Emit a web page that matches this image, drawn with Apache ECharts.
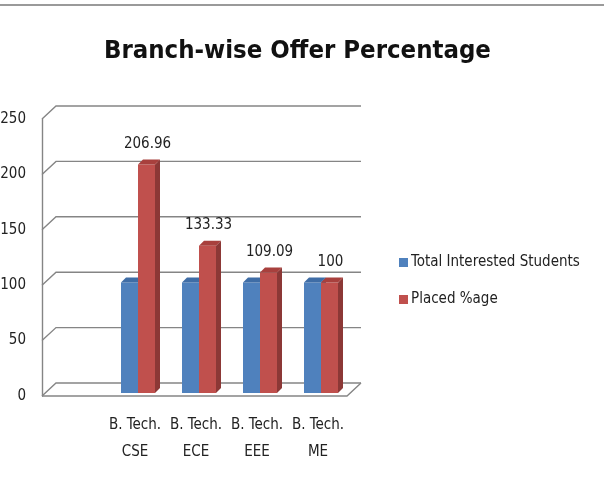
<!DOCTYPE html>
<html>
<head>
<meta charset="utf-8">
<script src="https://cdn.jsdelivr.net/npm/echarts@6/dist/echarts.min.js"></script>
<style>
  body { margin: 0; background: #fff; }
  #chart { width: 604px; height: 481px; }
</style>
</head>
<body>
<div id="chart"></div>
<script>
var categories = ['B. Tech.\nCSE', 'B. Tech.\nECE', 'B. Tech.\nEEE', 'B. Tech.\nME'];
var totalInterested = [100, 100, 100, 100];
var placedPct = [206.96, 133.33, 109.09, 100];
var yTicks = [0, 50, 100, 150, 200, 250];

var FONT = "'Liberation Sans Narrow', 'DejaVu Sans Condensed', 'Noto Sans', sans-serif";
var DX = 14, DY = -13;     // depth of the walls
var BW = 17;               // bar front width
var BD = 5;                // bar depth

var myChart = echarts.init(document.getElementById('chart'));

// walls and gridlines (3d look)
function renderWalls(params, api) {
    var v = api.value(0);
    var p = api.coord([0, v]);
    var pr = api.coord([1, v]);
    var st = { stroke: '#858585', lineWidth: 1.4, fill: null };
    var kids = [{
        type: 'polyline',
        shape: { points: [[p[0], p[1]], [p[0] + DX, p[1] + DY], [pr[0] + DX, pr[1] + DY]] },
        style: st
    }];
    if (v === 0) {
        kids.push({
            type: 'polyline',
            shape: { points: [[p[0], p[1]], [pr[0], pr[1]], [pr[0] + DX, pr[1] + DY]] },
            style: st
        });
    }
    return { type: 'group', children: kids };
}

function makeBarRender(idx, front, top, side, withLabel) {
    return function (params, api) {
        var c = api.value(0);
        var v = api.value(1);
        var pt = api.coord([c, v]);
        var pb = api.coord([c, 0]);
        var x0 = idx === 0 ? pt[0] - BW : pt[0];
        var x1 = x0 + BW;
        var yt = pt[1], yb = pb[1];
        var kids = [
            { type: 'rect', shape: { x: x0, y: yt, width: BW, height: yb - yt }, style: { fill: front } },
            { type: 'polygon', shape: { points: [[x1, yt], [x1 + BD, yt - BD], [x1 + BD, yb - BD], [x1, yb]] }, style: { fill: side } },
            { type: 'polygon', shape: { points: [[x0, yt], [x0 + BD, yt - BD], [x1 + BD, yt - BD], [x1, yt]] }, style: { fill: top } }
        ];
        if (withLabel) {
            kids.push({
                type: 'text',
                style: {
                    x: x0 + BW / 2 + 1, y: yt - 13,
                    text: String(v),
                    fill: '#222', font: '15px ' + FONT,
                    align: 'center', verticalAlign: 'bottom'
                }
            });
        }
        return { type: 'group', children: kids };
    };
}

option = {
    animation: false,
    title: {
        text: 'Branch-wise Offer Percentage',
        left: 99, top: 33,
        textStyle: { fontFamily: FONT, fontSize: 25.5, fontWeight: 'bold', color: '#111' }
    },
    legend: {
        orient: 'vertical',
        left: 394, top: 250,
        itemWidth: 9, itemHeight: 9, itemGap: 22,
        icon: 'rect',
        data: ['Total Interested Students', 'Placed %age'],
        textStyle: { fontFamily: FONT, fontSize: 15, color: '#222', padding: [0, 0, 0, -2] }
    },
    graphic: [{
        type: 'line',
        shape: { x1: 0, y1: 5, x2: 604, y2: 5 },
        style: { stroke: '#9a9a9a', lineWidth: 2 }
    }],
    grid: [
        { left: 42, right: 257, top: 119, bottom: 85, outerBoundsMode: 'none' },
        { left: 107.5, right: 252.5, top: 117, bottom: 88, outerBoundsMode: 'none' }
    ],
    xAxis: [
        { gridIndex: 0, type: 'value', min: 0, max: 1, show: false },
        {
            gridIndex: 1, type: 'category', data: categories,
            axisLine: { show: false }, axisTick: { show: false },
            axisLabel: { interval: 0, fontFamily: FONT, fontSize: 15, color: '#222', lineHeight: 27, margin: 19, padding: [0, 6, 0, 0] }
        }
    ],
    yAxis: [
        {
            gridIndex: 0, type: 'value', min: 0, max: 250, interval: 50,
            axisLine: { show: true, lineStyle: { color: '#858585', width: 1.4 } },
            axisTick: { show: false },
            splitLine: { show: false },
            axisLabel: { fontFamily: FONT, fontSize: 15, color: '#222', margin: 16 }
        },
        { gridIndex: 1, type: 'value', min: 0, max: 250, interval: 50, show: false }
    ],
    series: [
        {
            name: 'walls', type: 'custom', xAxisIndex: 0, yAxisIndex: 0,
            data: yTicks.map(function (t) { return [t]; }),
            encode: { y: 0 },
            renderItem: renderWalls, silent: true
        },
        {
            name: 'Total Interested Students', type: 'custom', xAxisIndex: 1, yAxisIndex: 1,
            itemStyle: { color: '#4F81BD' },
            data: totalInterested.map(function (v, i) { return [i, v]; }),
            encode: { x: 0, y: 1 },
            renderItem: makeBarRender(0, '#4F81BD', '#3f6da6', '#385d8a', false)
        },
        {
            name: 'Placed %age', type: 'custom', xAxisIndex: 1, yAxisIndex: 1,
            itemStyle: { color: '#C0504D' },
            data: placedPct.map(function (v, i) { return [i, v]; }),
            encode: { x: 0, y: 1 },
            renderItem: makeBarRender(1, '#C0504D', '#a8403d', '#8c3836', true)
        }
    ]
};

myChart.setOption(option);
</script>
</body>
</html>
